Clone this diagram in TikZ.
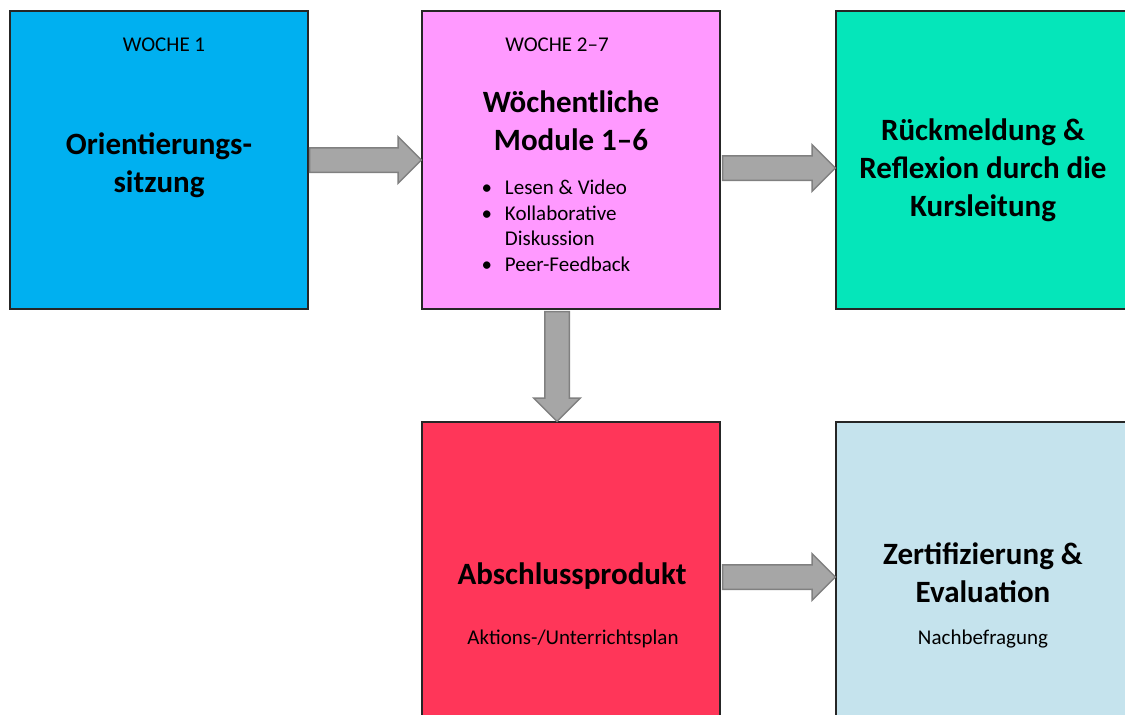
\documentclass[tikz,border=0pt]{standalone}
\usepackage{fontspec}
\setmainfont{Carlito}
\usetikzlibrary{shapes.arrows,calc}
\definecolor{wochenblau}{HTML}{00B0F0}
\definecolor{modulrosa}{HTML}{FF99FF}
\definecolor{rueckgruen}{HTML}{05E6BA}
\definecolor{abschlussrot}{HTML}{FF3659}
\definecolor{zertblau}{HTML}{C5E3ED}
\definecolor{pfeilgrau}{HTML}{A6A6A6}
\definecolor{pfeilrand}{HTML}{808080}
\tikzset{
  box/.style={draw=black!85, line width=1.2pt, minimum width=298pt, minimum height=298pt, inner sep=0pt},
  titel/.style={font=\fontsize{31}{38}\selectfont\bfseries, align=center},
  klein/.style={font=\fontsize{21}{25.5}\selectfont, align=center},
  pfeil/.style={single arrow, draw=pfeilrand, fill=pfeilgrau, line width=1.5pt,
    inner xsep=0pt, inner ysep=11.5pt, single arrow head extend=11pt, outer sep=0pt},
  blockarrow/.style={to path={let \p1=($(\tikztotarget)-(\tikztostart)$),
    \n1={veclen(\x1,\y1)}, \n2={atan2(\y1,\x1)} in
    node[pfeil, minimum height=\n1, rotate=\n2, anchor=tail] at (\tikztostart) {}}}
}
\begin{document}
\begin{tikzpicture}[x=1pt,y=-1pt]
  \useasboundingbox (0,0) rectangle (1125,715);
  \clip (0,0) rectangle (1125,715);
  % boxes
  \node[box, fill=wochenblau] (o) at (159,160) {};
  \node[box, fill=modulrosa] (w) at (571,160) {};
  \node[box, fill=rueckgruen] (r) at (985,160) {};
  \node[box, fill=abschlussrot] (a) at (571,571) {};
  \node[box, fill=zertblau] (z) at (985,571) {};
  % texts
  \node[klein] (o1) at (164,45) {WOCHE 1};
  \node[titel] (o2) at (159,165) {Orientierungs-\\sitzung};
  \node[klein] (w1) at (557,45) {WOCHE 2–7};
  \node[titel] (w2) at (571,121) {Wöchentliche\\Module 1–6};
  \node[klein, anchor=west] (w3) at (478,228) {%
    \begin{tabular}{@{}l@{\hspace{13pt}}l@{}}
      \textbullet & Lesen \& Video\\
      \textbullet & Kollaborative\\
                  & Diskussion\\
      \textbullet & Peer-Feedback
    \end{tabular}};
  \node[titel] (r1) at (983,170) {Rückmeldung \&\\Reflexion durch die\\Kursleitung};
  \node[titel] (a1) at (572,576) {Abschlussprodukt};
  \node[klein] (a2) at (573,639) {Aktions-/Unterrichtsplan};
  \node[titel] (z1) at (983,573) {Zertifizierung \&\\Evaluation};
  \node[klein] (z2) at (983,639) {Nachbefragung};
  % arrows
  \path ([xshift=1pt]o.east) to[blockarrow] (w.west);
  \path ([shift={(2pt,-8pt)}]w.east) to[blockarrow] ([yshift=-8pt]r.west);
  \path ([shift={(-14pt,-2pt)}]w.south) to[blockarrow] ([xshift=-14pt]a.north);
  \path ([shift={(2pt,-6pt)}]a.east) to[blockarrow] ([yshift=-6pt]z.west);
\end{tikzpicture}
\end{document}
